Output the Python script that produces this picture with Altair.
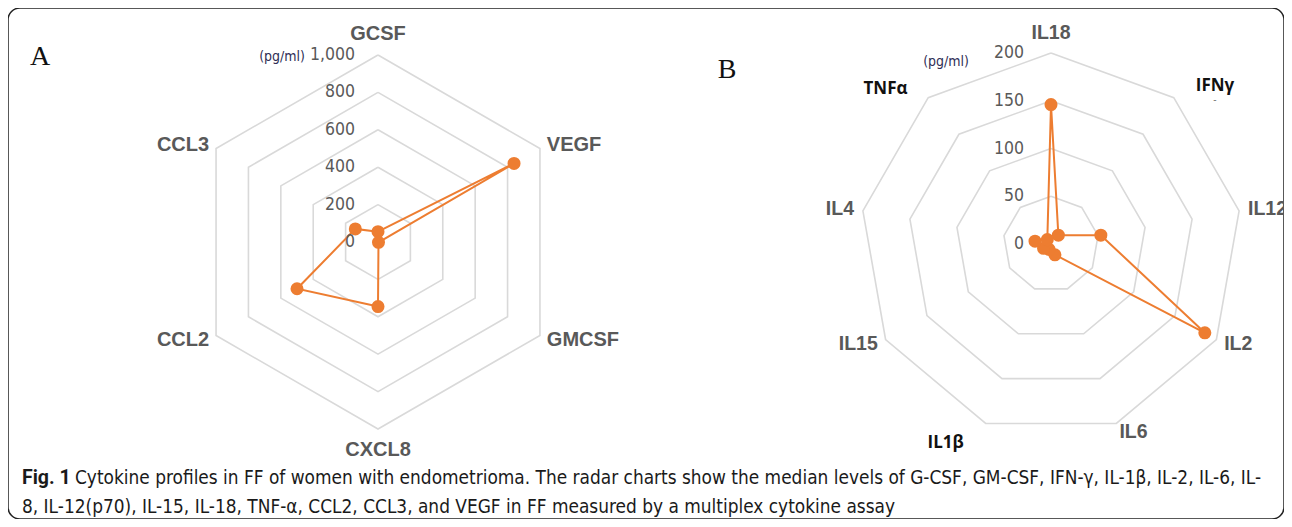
import math
import altair as alt
import pandas as pd

# ---------------- data ----------------
a_cats = ["GCSF", "VEGF", "GMCSF", "CXCL8", "CCL2", "CCL3"]
a_vals = [55, 840, 3, 345, 500, 140]
a_ticks = [0, 200, 400, 600, 800, 1000]
a_tick_labels = ["0", "200", "400", "600", "800", "1,000"]

b_cats = ["IL18", "IFNγ", "IL12", "IL2", "IL6", "IL1β", "IL15", "IL4", "TNFα"]
b_vals = [146, 12, 53, 186, 12, 6, 9, 17, 6]
b_ticks = [0, 50, 100, 150, 200]
b_tick_labels = ["0", "50", "100", "150", "200"]

caption_bold = "Fig. 1"
caption_line1 = ("Cytokine profiles in FF of women with endometrioma. The radar charts show the median "
                 "levels of G-CSF, GM-CSF, IFN-γ, IL-1β, IL-2, IL-6, IL-")
caption_line2 = ("8, IL-12(p70), IL-15, IL-18, TNF-α, CCL2, CCL3, and VEGF in FF measured by a "
                 "multiplex cytokine assay")

# ---------------- layout ----------------
W, H = 1276, 511
PANELS = {
    "A": dict(cats=a_cats, vals=a_vals, ticks=a_ticks, tlabels=a_tick_labels,
              cx=370, cy=234, R=187, top_off=21, side_off=8, tick_dx=-23),
    "B": dict(cats=b_cats, vals=b_vals, ticks=b_ticks, tlabels=b_tick_labels,
              cx=1043, cy=236, R=191, top_off=20, side_off=9, tick_dx=-27),
}
SPECIAL_B = {"TNFα": (227, 136.8), "IFNγ": (228, 44.0), "IL1β": (225, -117.9)}

ORANGE = "#ED7D31"
GRID = "#d9d9d9"
LABEL_GREY = "#595959"


def polar(p, r, ang):
    t = math.radians(ang)
    return p["cx"] + r * math.cos(t), p["cy"] - r * math.sin(t)


grid_rows, line_rows, pt_rows = [], [], []
lab_rows, tick_rows = [], []
for name, p in PANELS.items():
    n = len(p["cats"])
    vmax = p["ticks"][-1]
    angs = [90 - i * 360.0 / n for i in range(n)]
    for t in p["ticks"][1:]:
        for k in range(n + 1):
            x, y = polar(p, p["R"] * t / vmax, angs[k % n])
            grid_rows.append(dict(ring=f"{name}{t}", k=k, x=x, y=y))
    for k in range(n + 1):
        v = p["vals"][k % n]
        x, y = polar(p, p["R"] * v / vmax, angs[k % n])
        line_rows.append(dict(panel=name, k=k, x=x, y=y))
        if k < n:
            pt_rows.append(dict(panel=name, cat=p["cats"][k], v=v, x=x, y=y))
    for i, c in enumerate(p["cats"]):
        a = angs[i]
        ca = math.cos(math.radians(a))
        if name == "B" and c in SPECIAL_B:
            r, a2 = SPECIAL_B[c]
            x, y = polar(p, r, a2)
            lab_rows.append(dict(panel=name, cat=c, x=x, y=y, align="center", style="special"))
            continue
        if abs(ca) < 0.2:
            x, y = polar(p, p["R"] + p["top_off"], a)
            al = "center"
        else:
            x, y = polar(p, p["R"] + p["side_off"], a)
            al = "left" if ca > 0 else "right"
        lab_rows.append(dict(panel=name, cat=c, x=x, y=y, align=al, style="normal"))
    for t, tl in zip(p["ticks"], p["tlabels"]):
        tick_rows.append(dict(panel=name, label=tl, x=p["cx"] + p["tick_dx"],
                              y=p["cy"] - p["R"] * t / vmax))

grid_df = pd.DataFrame(grid_rows)
line_df = pd.DataFrame(line_rows)
pt_df = pd.DataFrame(pt_rows)
lab_df = pd.DataFrame(lab_rows)
tick_df = pd.DataFrame(tick_rows)

xs = alt.Scale(domain=[0, W], nice=False, zero=False)
ys = alt.Scale(domain=[0, H], nice=False, zero=False, reverse=True)
X = lambda f="x": alt.X(f"{f}:Q", scale=xs, axis=None)
Y = lambda f="y": alt.Y(f"{f}:Q", scale=ys, axis=None)

grid = alt.Chart(grid_df).mark_line(color=GRID, strokeWidth=1.6).encode(
    x=X(), y=Y(), detail="ring:N", order="k:Q")

series = alt.Chart(line_df).mark_line(color=ORANGE, strokeWidth=2).encode(
    x=X(), y=Y(), detail="panel:N", order="k:Q")

points = alt.Chart(pt_df).mark_circle(color=ORANGE, size=170, opacity=1).encode(
    x=X(), y=Y(), tooltip=["cat:N", "v:Q"])

layers = [grid]


def text_layer(df, align, font, size, weight, color, clip=False):
    return alt.Chart(df).mark_text(align=align, baseline="middle", font=font, fontSize=size,
                                   fontWeight=weight, color=color, clip=clip).encode(
        x=X(), y=Y(), text="cat:N")


for panel, size in [("A", 20), ("B", 19.5)]:
    for al in ["left", "right", "center"]:
        sub = lab_df[(lab_df.panel == panel) & (lab_df["align"] == al) & (lab_df["style"] == "normal")]
        if len(sub):
            layers.append(text_layer(sub, al, "Liberation Sans", size, "bold", LABEL_GREY, clip=True))
special = lab_df[lab_df["style"] == "special"]
layers.append(text_layer(special, "center", "Open Sans", 17, "bold", "#111111"))

narrow = "DejaVu Sans Condensed, sans-serif"
ticks = alt.Chart(tick_df).mark_text(align="right", baseline="middle", font=narrow,
                                     fontSize=17.5, color=LABEL_GREY).encode(
    x=X(), y=Y(), text="label:N")

units_df = pd.DataFrame({"label": ["(pg/ml)", "(pg/ml)"], "x": [297, 961], "y": [49, 54]})
units = alt.Chart(units_df).mark_text(align="right", baseline="middle", font=narrow,
                                      fontSize=14, color="#2e2e55").encode(
    x=X(), y=Y(), text="label:N")

letters_df = pd.DataFrame({"label": ["A", "B"], "x": [32, 719], "y": [49, 62]})
letters = alt.Chart(letters_df).mark_text(align="center", baseline="middle",
                                          font="Liberation Serif", fontSize=28, color="#111111").encode(
    x=X(), y=Y(), text="label:N")

dash_df = pd.DataFrame({"label": ["-"], "x": [1207], "y": [92]})
dash = alt.Chart(dash_df).mark_text(align="center", baseline="middle", fontSize=10,
                                    color="#777777").encode(x=X(), y=Y(), text="label:N")

capb_df = pd.DataFrame({"label": [caption_bold], "x": [14], "y": [470]})
capb = alt.Chart(capb_df).mark_text(align="left", baseline="middle", font="Roboto", fontSize=19.5,
                                    fontWeight="bold", color="#1a1a1a").encode(
    x=X(), y=Y(), text="label:N")
capr_df = pd.DataFrame({"label": [caption_line1, caption_line2], "x": [67, 14], "y": [470, 499]})
capr = alt.Chart(capr_df).mark_text(align="left", baseline="middle", font=narrow, fontSize=18.9,
                                    color="#1a1a1a").encode(
    x=X(), y=Y(), text="label:N")

layers += [series, points, ticks, units, letters, dash, capb, capr]

chart = alt.layer(*layers).properties(
    width=W, height=H, padding=0,
    autosize=alt.AutoSizeParams(type="fit", contains="padding"),
    background="white",
).configure_view(stroke="#222222", strokeWidth=1.5, cornerRadius=12)

chart.save("out.html", embed_options={"renderer": "svg", "actions": False})
